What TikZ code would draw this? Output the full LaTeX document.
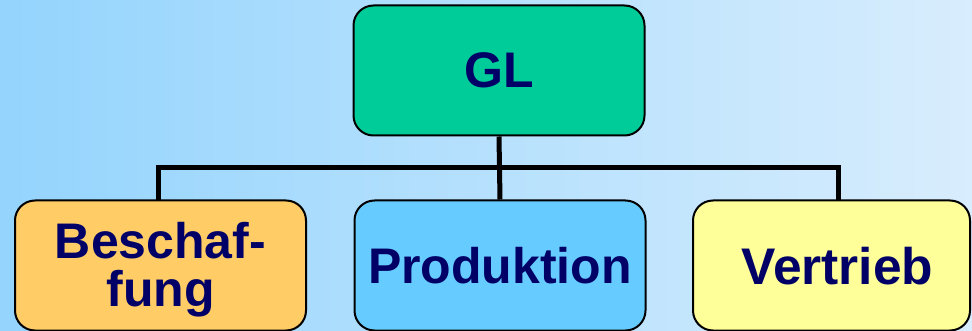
\documentclass[tikz,border=0pt]{standalone}
\usepackage{fontspec}
\setmainfont{Liberation Sans}
\definecolor{bgl}{RGB}{148,212,253}
\definecolor{bgr}{RGB}{216,237,253}
\definecolor{navy}{RGB}{0,0,102}
\definecolor{glgreen}{RGB}{0,204,153}
\definecolor{orng}{RGB}{255,204,102}
\definecolor{skyb}{RGB}{102,204,255}
\definecolor{yell}{RGB}{255,255,153}
\begin{document}
\begin{tikzpicture}[x=1pt,y=-1pt,
  box/.style={draw=black,line width=2pt,rounded corners=20pt,minimum width=291pt,minimum height=130pt,
    inner sep=0pt,text=navy,font=\fontsize{50}{48}\selectfont\bfseries,align=center},
  lbl/.style={inner sep=0pt,text=navy,font=\fontsize{50}{48}\selectfont\bfseries,align=center},
  conn/.style={draw=black,line width=5pt}]
\useasboundingbox (0,0) rectangle (972,331);
\shade[left color=bgl,right color=bgr] (0,0) rectangle (972,331);
\node[box,fill=glgreen] (GL) at (499,70.5) {GL};
\node[box,fill=orng] (Besch) at (160.5,265.5) {};
\node[lbl] (BeschT) at (160.5,269.5) {Beschaf-\\fung};
\node[box,fill=skyb] (Prod) at (500,265.5) {Produktion};
\node[box,fill=yell,minimum width=277pt] (Vert) at (831.5,265.5) {};
\node[lbl,font=\fontsize{51.5}{48}\selectfont\bfseries] (VertT) at (837.5,266) {Vertrieb};
\coordinate (bar) at (499,168);
\coordinate (lt) at (158,201);
\coordinate (rt) at (838,201);
\draw[conn] (GL.south) -- (Prod.north);
\draw[conn] (lt) |- (bar) -| (rt);
\end{tikzpicture}
\end{document}
